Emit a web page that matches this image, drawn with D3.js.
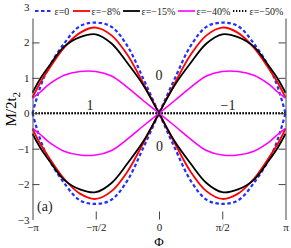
<!DOCTYPE html>
<html>
<head>
<meta charset="utf-8">
<script src="https://cdn.jsdelivr.net/npm/d3@7"></script>
<style>
  body { margin: 0; background: #fff; }
  svg { display: block; }
  text { font-family: "Liberation Serif", "DejaVu Serif", serif; }
</style>
</head>
<body>
<svg width="291" height="248"></svg>
<script>
const PI = Math.PI;

// Phase grid (rad)
const phi = [-PI, -15 * PI / 16, -7 * PI / 8, -3 * PI / 4, -5 * PI / 8, -PI / 2, -3 * PI / 8, -PI / 4, -PI / 8, 0,
  PI / 8, PI / 4, 3 * PI / 8, PI / 2, 5 * PI / 8, 3 * PI / 4, 7 * PI / 8, 15 * PI / 16, PI];

// one branch of each curve (the other branch is its mirror, -M)
const eps0 = [0, 0.75, 1.27, 1.97, 2.46, 2.56, 2.44, 1.9, 0.98, 0,
  -0.98, -1.9, -2.44, -2.56, -2.46, -1.97, -1.27, -0.75, 0];
const eps8 = [0.44, 0.87, 1.22, 1.85, 2.27, 2.42, 2.2, 1.65, 0.85, 0,
  -0.85, -1.65, -2.2, -2.42, -2.27, -1.85, -1.22, -0.87, -0.44];
const eps15 = [0.58, 0.98, 1.3, 1.88, 2.15, 2.23, 1.97, 1.42, 0.8, 0,
  -0.8, -1.42, -1.97, -2.23, -2.15, -1.88, -1.3, -0.98, -0.58];
const eps40 = [0.43, 0.6, 0.8, 1.07, 1.18, 1.18, 1.05, 0.73, 0.36, 0,
  -0.36, -0.73, -1.05, -1.18, -1.18, -1.07, -0.8, -0.6, -0.43];
const eps50 = [0, 0, 0, 0, 0, 0, 0, 0, 0, 0, 0, 0, 0, 0, 0, 0, 0, 0, 0];

const labels = ['ε=0', 'ε=−8%', 'ε=−15%', 'ε=−40%', 'ε=−50%'];
const xTicks = [-PI, -PI / 2, 0, PI / 2, PI];
const xTickLabels = ['−π', '−π/2', '0', 'π/2', 'π'];
const yTicks = [-3, -2, -1, 0, 1, 2, 3];

const series = [
  { name: labels[0], values: eps0, color: '#1f2fff', width: 2.2, dash: '3.5,2.5' },
  { name: labels[1], values: eps8, color: '#ff0000', width: 1.8, dash: null },
  { name: labels[2], values: eps15, color: '#000000', width: 1.8, dash: null },
  { name: labels[3], values: eps40, color: '#ff00ff', width: 1.6, dash: null },
  { name: labels[4], values: eps50, color: '#000000', width: 2, dash: '1.3,1.7' },
];

const svg = d3.select('svg');
const x = d3.scaleLinear().domain([-PI, PI]).range([32.5, 285.5]);
const y = d3.scaleLinear().domain([-3, 3]).range([219.5, 7]);

const line = d3.line()
  .x((d) => x(d[0]))
  .y((d) => y(d[1]))
  .curve(d3.curveCatmullRom.alpha(0.5));

// curves, both branches
series.forEach((s) => {
  [1, -1].forEach((sign) => {
    svg.append('path')
      .datum(phi.map((p, i) => [p, sign * s.values[i]]))
      .attr('d', line)
      .attr('fill', 'none')
      .attr('stroke', s.color)
      .attr('stroke-width', s.width)
      .attr('stroke-dasharray', s.dash);
  });
});

const fmtY = (d) => (d < 0 ? '−' + Math.abs(d) : String(d));

// left axis
const gl = svg.append('g')
  .attr('transform', `translate(${x(-PI)},0)`)
  .call(d3.axisLeft(y).tickValues(yTicks).tickSize(-7).tickSizeOuter(0).tickPadding(3).tickFormat(fmtY));
gl.selectAll('.tick line').filter((d) => Math.abs(d) === 3).remove();

// right axis
const gr = svg.append('g')
  .attr('transform', `translate(${x(PI)},0)`)
  .call(d3.axisRight(y).tickValues(yTicks).tickSize(-7).tickSizeOuter(0).tickFormat(''));
gr.selectAll('.tick line').filter((d) => Math.abs(d) === 3).remove();

// bottom ticks
const gb = svg.append('g')
  .attr('transform', `translate(0,${y(-3)})`)
  .call(d3.axisBottom(x).tickValues(xTicks).tickSize(-8).tickPadding(4)
    .tickFormat((d, i) => xTickLabels[i]));
gb.select('.domain').remove();
gb.selectAll('.tick line').filter((d) => Math.abs(d) > 3).remove();

svg.selectAll('.tick text')
  .attr('font-family', '"Liberation Serif", serif')
  .attr('font-size', 11)
  .attr('fill', '#222');
svg.selectAll('.domain, .tick line').attr('stroke', '#444');

// legend strip on top
svg.append('rect')
  .attr('x', 31)
  .attr('y', 0)
  .attr('width', 260)
  .attr('height', 18.5)
  .attr('fill', '#fff');

const legendX = [35, 73, 123, 178, 233];
const legendLen = [18, 17, 17, 17, 15];
const leg = svg.append('g').attr('transform', 'translate(0,11)');
series.forEach((s, i) => {
  leg.append('line')
    .attr('x1', legendX[i])
    .attr('x2', legendX[i] + legendLen[i])
    .attr('stroke', s.color)
    .attr('stroke-width', s.width)
    .attr('stroke-dasharray', s.dash);
  leg.append('text')
    .attr('x', legendX[i] + legendLen[i] + 1.5)
    .attr('dy', '0.35em')
    .attr('font-size', 10)
    .attr('fill', '#222')
    .text(s.name);
});

// axis titles
svg.append('text')
  .attr('x', x(0))
  .attr('y', 246)
  .attr('text-anchor', 'middle')
  .attr('font-size', 13)
  .text('Φ');

const yl = svg.append('text')
  .attr('transform', `translate(16,${y(0) - 4}) rotate(-90)`)
  .attr('text-anchor', 'middle')
  .attr('font-size', 15);
yl.append('tspan').text('M/2t');
yl.append('tspan').attr('font-size', 11).attr('dy', 4).text('2');

// annotations
const ann = [
  { t: '1', px: -PI * 0.545, py: 0.09 },
  { t: '−1', px: PI * 0.545, py: 0.09 },
  { t: '0', px: 0, py: 0.93 },
  { t: '0', px: 0.01, py: -1.06 },
];
ann.forEach((a) => {
  svg.append('text')
    .attr('x', x(a.px))
    .attr('y', y(a.py))
    .attr('text-anchor', 'middle')
    .attr('font-family', '"Liberation Sans", Arial, sans-serif')
    .attr('font-size', 14)
    .attr('fill', '#222')
    .text(a.t);
});

svg.append('text')
  .attr('x', 37)
  .attr('y', 211)
  .attr('font-family', '"Liberation Sans", Arial, sans-serif')
  .attr('font-size', 14)
  .attr('fill', '#222')
  .text('(a)');
</script>
</body>
</html>
